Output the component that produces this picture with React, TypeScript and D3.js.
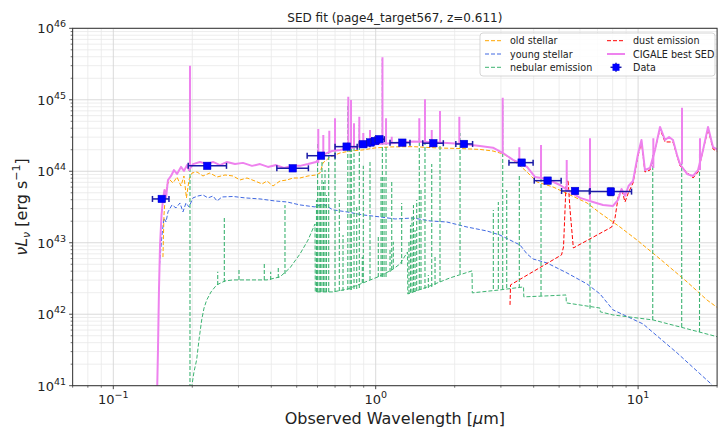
import React from 'react';
import * as d3 from 'd3';

type P = [number, number];
type S = [number, number, number];

const W = 720;
const H = 431;
const PL = 72.65, PR = 717.1, PT = 28.3, PB = 385.7;

const xDomain: [number, number] = [0.07, 20];
const yDomain: [number, number] = [1e41, 1e46];
const xMajorTicks = [0.1, 1, 10];
const yMajorTicks = [1e41, 1e42, 1e43, 1e44, 1e45, 1e46];

const titleText = 'SED fit (page4_target567, z=0.611)';

// old stellar component [wavelength um, nuLnu]
const oldStellar: P[] = [
  [0.1546, 6.3e42], [0.156, 2.45e43], [0.158, 4.67e43], [0.1602, 6.43e43], [0.1645, 7.55e43],
  [0.1689, 6.86e43], [0.1749, 8.31e43], [0.1811, 6.22e43], [0.1859, 8.59e43], [0.19, 4.23e43],
  [0.1943, 7.55e43], [0.1995, 9.46e43], [0.2084, 9.77e43], [0.2197, 8.59e43], [0.2335, 9.46e43],
  [0.2484, 8.31e43], [0.2665, 8.87e43], [0.2859, 8.59e43], [0.304, 7.55e43], [0.3232, 8.05e43],
  [0.3467, 7.31e43], [0.3688, 6.64e43], [0.3852, 7.31e43], [0.4061, 6.22e43], [0.4318, 7.31e43],
  [0.4592, 7.55e43], [0.484, 8.05e43], [0.5146, 8.05e43], [0.5521, 8.59e43], [0.5922, 8.87e43],
  [0.6134, 9.46e43], [0.6297, 1.31e44], [0.6697, 1.58e44], [0.7308, 1.8e44], [0.7983, 1.92e44],
  [0.8946, 1.99e44], [0.9939, 2.12e44], [1.134, 2.19e44], [1.387, 2.21e44], [1.713, 2.12e44],
  [2.096, 2.08e44], [2.497, 2.02e44], [2.799, 1.92e44], [3.056, 1.75e44], [3.25, 1.54e44],
  [3.486, 1.26e44], [3.773, 9.77e43], [4.119, 7.08e43], [4.739, 6.03e43], [5.503, 4.66e43],
  [6.388, 3.6e43], [7.159, 2.61e43], [8.531, 1.66e43], [9.904, 1.09e43], [12.12, 5.93e42],
  [15.37, 2.83e42], [18.31, 1.58e42], [20.16, 1.22e42],
];

const youngStellar: P[] = [
  [0.15, 4.9e42], [0.1533, 1.28e43], [0.156, 2.22e43], [0.1588, 1.95e43], [0.1616, 2.7e43],
  [0.1674, 3.38e43], [0.1734, 3.07e43], [0.1795, 3.6e43], [0.1843, 2.7e43], [0.1892, 3.6e43],
  [0.1943, 3.17e43], [0.2012, 4.24e43], [0.2103, 4.51e43], [0.2197, 4.66e43], [0.2296, 4.24e43],
  [0.2399, 4.51e43], [0.2484, 3.84e43], [0.2596, 4.37e43], [0.2859, 4.44e43], [0.3176, 4.24e43],
  [0.3623, 4.1e43], [0.4133, 3.84e43], [0.4592, 3.72e43], [0.5146, 3.38e43], [0.587, 3.17e43],
  [0.6297, 3.49e43], [0.6876, 2.88e43], [0.7774, 2.7e43], [0.8946, 2.45e43], [1.038, 2.3e43],
  [1.185, 2.15e43], [1.387, 2.22e43], [1.61, 2.02e43], [1.869, 1.95e43], [2.228, 1.66e43],
  [2.657, 1.46e43], [2.977, 1.28e43], [3.25, 1.09e43], [3.547, 9.31e42], [3.773, 6.97e42],
  [3.977, 5.93e42], [4.496, 5.21e42], [5.358, 3.78e42], [6.388, 2.65e42], [7.159, 1.92e42],
  [8.023, 1.15e42], [10.44, 7.31e41], [14.07, 2.88e41], [19.13, 1.03e41],
];

const nebularCont: P[] = [
  [0.1968, 6.3e40], [0.1995, 1.03e41], [0.203, 1.56e41], [0.2078, 2.3e41], [0.2121, 4.37e41],
  [0.2172, 8.32e41], [0.2217, 1.22e42], [0.227, 1.58e42], [0.2357, 2.05e42], [0.2477, 2.57e42],
  [0.2665, 2.92e42], [0.2859, 3.02e42], [0.3319, 3.02e42], [0.3852, 3.02e42], [0.4318, 3.33e42],
  [0.4714, 4.45e42], [0.5146, 6.97e42], [0.5521, 1.09e43], [0.587, 1.83e43], [0.5885, 2.05e42],
  [0.6876, 2.05e42], [0.7843, 2.26e42], [0.8946, 2.74e42], [1.02, 3.33e42], [1.154, 4.17e42],
  [1.238, 5.06e42], [1.322, 7.43e42], [1.325, 1.92e42], [1.61, 2.49e42], [1.919, 3.22e42],
  [2.328, 4.04e42], [2.334, 1.99e42], [2.977, 2.19e42], [3.659, 2.41e42], [3.668, 1.75e42],
  [4.418, 1.8e42], [5.312, 1.86e42], [5.327, 1.44e42], [7.159, 1.22e42], [7.177, 1.08e42],
  [8.023, 9.77e41], [11.4, 8.32e41], [14.44, 6.64e41], [20.16, 4.81e41],
];

// nebular lines [wavelength, base, peak]
const nebularLines: S[] = [
  [0.196, 6.3e40, 2.88e45], [0.25, 2.57e42, 3.94e42], [0.2649, 2.83e42, 2.32e43], [0.3013, 3.02e42, 4.17e42],
  [0.3762, 3.02e42, 5.17e42], [0.3979, 3.02e42, 3.94e42], [0.4253, 3.22e42, 4.45e42], [0.4511, 3.66e42, 3.38e43],
  [0.5948, 2.05e42, 3.97e43], [0.6006, 2.05e42, 2.57e44], [0.6091, 2.05e42, 6.22e43], [0.6166, 2.05e42, 5.14e43],
  [0.6241, 2.05e42, 1.44e44], [0.633, 2.05e42, 7.08e43], [0.6409, 2.05e42, 1.04e44], [0.6494, 2.05e42, 4.67e43],
  [0.6621, 2.05e42, 1.86e44], [0.6998, 2.05e42, 2.74e44], [0.7267, 2.12e42, 3.97e43], [0.7506, 2.12e42, 1.28e43],
  [0.7829, 2.19e42, 8.73e44], [0.7991, 2.19e42, 1.99e44], [0.8073, 2.19e42, 7.68e44], [0.8267, 2.26e42, 3.22e44],
  [0.8464, 2.26e42, 3.38e43], [0.866, 2.33e42, 4.45e44], [0.889, 2.74e42, 6.32e42], [0.8969, 2.74e42, 1.19e44],
  [0.9512, 3.02e42, 1.35e44], [1.023, 3.33e42, 1.28e43], [1.048, 3.33e42, 8.59e43], [1.06, 3.33e42, 3.72e45],
  [1.076, 3.33e42, 8.59e43], [1.095, 3.33e42, 3.12e44], [1.134, 3.91e42, 7.92e42], [1.151, 4.17e42, 7.55e43],
  [1.167, 4.31e42, 1.03e43], [1.256, 5.06e42, 3.6e43], [1.339, 1.92e42, 1.09e43], [1.357, 1.99e42, 1.77e43],
  [1.375, 1.99e42, 2.45e43], [1.393, 2.05e42, 3.38e43], [1.412, 2.05e42, 1.51e43], [1.433, 2.12e42, 3.97e43],
  [1.466, 2.19e42, 2.92e44], [1.488, 2.19e42, 5.48e43], [1.541, 2.26e42, 7.68e44], [1.587, 2.33e42, 3.55e42],
  [1.635, 2.41e42, 1.26e44], [1.683, 2.57e42, 6.32e42], [1.758, 2.83e42, 4.45e44], [2.096, 3.66e42, 3.44e44],
  [2.807, 2.26e42, 2.88e43], [2.933, 2.26e42, 3.72e43], [3.048, 2.26e42, 8.73e44], [3.157, 2.33e42, 5.48e43],
  [3.526, 2.33e42, 8.59e43], [4.266, 1.8e42, 1.22e44], [6.557, 1.19e42, 2.49e44], [11.37, 8.32e41, 1.69e44],
  [14.66, 6.64e41, 6.53e44], [17.14, 5.65e41, 1.86e44],
];

const dustEmission: P[] = [
  [3.25, 1.35e42], [3.264, 2.57e42], [5.107, 6.76e42], [5.197, 8.74e42], [5.312, 6.43e43],
  [5.406, 7.55e43], [5.503, 2.88e43], [5.665, 8.45e42], [7.932, 1.66e43], [8.166, 2.22e43],
  [8.407, 4.52e43], [8.662, 5.48e43], [8.916, 3.72e43], [9.177, 4.98e43], [9.563, 6.86e43],
  [9.992, 1.64e44], [10.3, 2.57e44], [10.62, 9.77e43], [11.1, 1.04e44], [12.12, 3.91e44],
  [12.66, 2.57e44], [13.58, 2.57e44], [14.44, 1.19e44], [16.19, 8.05e43], [16.92, 9.77e43],
  [18.47, 3.91e44], [19.3, 2.05e44], [20.16, 1.86e44],
];

const bestSed: P[] = [
  [0.1467, 6.3e40], [0.148, 3.17e41], [0.1493, 2.19e42], [0.1507, 9.31e42], [0.1527, 2.45e43],
  [0.1546, 3.97e43], [0.1567, 5.48e43], [0.1588, 4.24e43], [0.1616, 7.55e43], [0.166, 8.59e43],
  [0.1703, 1.04e44], [0.1749, 9.16e43], [0.1811, 1.15e44], [0.1859, 1.01e44], [0.1909, 1.22e44],
  [0.1943, 1.04e44], [0.2012, 1.26e44], [0.214, 1.35e44], [0.2276, 1.26e44], [0.2399, 1.35e44],
  [0.255, 1.22e44], [0.2713, 1.35e44], [0.2909, 1.26e44], [0.312, 1.31e44], [0.3377, 1.19e44],
  [0.3623, 1.26e44], [0.3886, 1.15e44], [0.417, 1.22e44], [0.4473, 1.11e44], [0.4797, 1.19e44],
  [0.5146, 1.19e44], [0.5521, 1.26e44], [0.5922, 1.35e44], [0.6134, 1.54e44], [0.6409, 1.75e44],
  [0.6817, 1.92e44], [0.7308, 1.99e44], [0.7983, 2.12e44], [0.8946, 2.26e44], [1.02, 2.41e44],
  [1.185, 2.49e44], [1.387, 2.6e44], [1.61, 2.57e44], [1.869, 2.49e44], [2.151, 2.41e44],
  [2.497, 2.26e44], [2.799, 2.14e44], [3.056, 1.8e44], [3.336, 1.44e44], [3.547, 1.31e44],
  [3.773, 1.15e44], [4.046, 8.32e43], [4.496, 7.8e43], [5.039, 6.43e43], [5.503, 5.14e43],
  [6.006, 4.24e43], [6.732, 3.72e43], [7.349, 3.38e43], [8.023, 3.27e43], [8.384, 3.97e43],
  [8.645, 5.65e43], [8.916, 4.52e43], [9.194, 6.22e43], [9.563, 7.31e43], [9.992, 1.75e44],
  [10.3, 2.74e44], [10.62, 1.04e44], [11.1, 1.11e44], [11.6, 1.99e44], [12.12, 4.17e44],
  [12.66, 2.74e44], [13.12, 3.02e44], [13.58, 2.74e44], [14.07, 1.69e44], [14.44, 1.26e44],
  [15.37, 9.16e43], [16.19, 8.59e43], [16.92, 1.04e44], [17.68, 1.99e44], [18.47, 4.17e44],
  [19.3, 2.17e44], [20.16, 1.99e44],
];

const bestSedLines: S[] = [
  [0.196, 1.19e44, 3.0e45], [0.6042, 1.31e44, 3.91e44], [0.6314, 1.58e44, 3.22e44], [0.6655, 1.8e44, 3.7e44],
  [0.6998, 1.92e44, 5.51e44], [0.7862, 2.12e44, 1.1e45], [0.8052, 2.12e44, 9.93e44], [0.8267, 2.15e44, 4.69e44],
  [0.866, 2.19e44, 5.81e44], [0.8969, 2.26e44, 3.44e44], [0.9512, 2.33e44, 3.79e44], [1.061, 2.41e44, 3.93e45],
  [1.095, 2.41e44, 5.51e44], [1.151, 2.49e44, 3.05e44], [1.466, 2.57e44, 5.51e44], [1.541, 2.57e44, 1.02e45],
  [1.635, 2.53e44, 3.79e44], [1.758, 2.49e44, 6.97e44], [2.083, 2.41e44, 5.81e44], [3.048, 1.75e44, 1.07e45],
  [3.526, 1.31e44, 2.17e44], [4.266, 7.8e43, 2.33e44], [5.345, 5.13e43, 1.44e44], [6.557, 3.97e43, 2.9e44],
  [11.43, 1.11e44, 2.9e44], [14.7, 1.26e44, 7.76e44], [17.21, 1.04e44, 2.9e44],
];

// photometric data
const dataWl = [0.153, 0.228, 0.483, 0.619, 0.775, 0.897, 0.955, 0.994, 1.032, 1.263, 1.658, 2.17, 3.6, 4.52, 5.75, 7.87];
const dataLum = [4.1e43, 1.19e44, 1.1e44, 1.65e44, 2.21e44, 2.39e44, 2.53e44, 2.65e44, 2.81e44, 2.51e44, 2.47e44, 2.41e44, 1.32e44, 7.39e43, 5.3e43, 5.19e43];
const dataWlLo = [0.141, 0.193, 0.42, 0.548, 0.7, 0.866, 0.925, 0.96, 0.994, 1.134, 1.511, 2.02, 3.22, 4.02, 5.11, 6.52];
const dataWlHi = [0.163, 0.27, 0.554, 0.7, 0.85, 0.951, 0.985, 1.03, 1.078, 1.351, 1.81, 2.34, 3.98, 5.09, 6.56, 9.44];
const dataLumErr = [0, 0, 0, 0, 0, 0, 0, 0, 0, 0, 0, 0, 0, 0, 0, 0.6e43];

const legendLabels = ['old stellar', 'young stellar', 'nebular emission', 'dust emission', 'CIGALE best SED', 'Data'];

const C_OLD = '#ffa500';
const C_YOUNG = '#4169e1';
const C_NEB = '#3cb371';
const C_DUST = '#ff0000';
const C_SED = '#ee82ee';
const C_DATA = '#0000ff';
const C_ERR = '#1a1aa6';
const DASH = '4,2';
const FONT = 'DejaVu Sans, Verdana, sans-serif';

function expLabel(v: number) {
  const e = Math.round(Math.log10(v));
  return e < 0 ? '\u2212' + Math.abs(e) : String(e);
}

export default function App() {
  const x = d3.scaleLog().domain(xDomain).range([PL, PR]);
  const y = d3.scaleLog().domain(yDomain).range([PB, PT]);
  const line = d3.line<P>().x((d) => x(d[0])).y((d) => y(d[1]));

  const xMinor = x.ticks().filter((t) => !xMajorTicks.some((m) => Math.abs(m - t) / m < 1e-6));
  const yMinor = y.ticks().filter((t) => !yMajorTicks.some((m) => Math.abs(m - t) / m < 1e-6));

  const legendRows = [40.7, 54, 67.3];
  const LF = 9.6;

  return (
    <svg width={W} height={H} style={{ position: 'absolute', left: 0, top: 0, background: '#fff' }} fontFamily={FONT}>
      <defs>
        <clipPath id="plotClip">
          <rect x={PL} y={PT} width={PR - PL} height={PB - PT} />
        </clipPath>
      </defs>
      <rect x={0} y={0} width={W} height={H} fill="#fff" />
      {/* grid */}
      <g>
        {xMinor.map((t, i) => (
          <line key={'gxm' + i} x1={x(t)} x2={x(t)} y1={PT} y2={PB} stroke="#e8e8e8" strokeWidth={0.8} />
        ))}
        {yMinor.map((t, i) => (
          <line key={'gym' + i} x1={PL} x2={PR} y1={y(t)} y2={y(t)} stroke="#e8e8e8" strokeWidth={0.8} />
        ))}
        {xMajorTicks.map((t, i) => (
          <line key={'gx' + i} x1={x(t)} x2={x(t)} y1={PT} y2={PB} stroke="#d6d6d6" strokeWidth={0.9} />
        ))}
        {yMajorTicks.map((t, i) => (
          <line key={'gy' + i} x1={PL} x2={PR} y1={y(t)} y2={y(t)} stroke="#d6d6d6" strokeWidth={0.9} />
        ))}
      </g>
      {/* components */}
      <g clipPath="url(#plotClip)" fill="none">
        <path d={line(youngStellar) || ''} stroke={C_YOUNG} strokeWidth={1} strokeDasharray={DASH} />
        <path d={line(oldStellar) || ''} stroke={C_OLD} strokeWidth={1} strokeDasharray={DASH} />
        <path d={line(nebularCont) || ''} stroke={C_NEB} strokeWidth={1} strokeDasharray={DASH} />
        {nebularLines.map((l, i) => (
          <line key={'nl' + i} x1={x(l[0])} x2={x(l[0])} y1={y(l[1])} y2={y(l[2])} stroke={C_NEB} strokeWidth={1.1} strokeDasharray={DASH} />
        ))}
        <path d={line(dustEmission) || ''} stroke={C_DUST} strokeWidth={1} strokeDasharray={DASH} />
        <path d={line(bestSed) || ''} stroke={C_SED} strokeWidth={2} strokeLinejoin="round" />
        {bestSedLines.map((l, i) => (
          <line key={'sl' + i} x1={x(l[0])} x2={x(l[0])} y1={y(l[1])} y2={y(l[2])} stroke={C_SED} strokeWidth={2} />
        ))}
      </g>
      {/* data */}
      <g>
        {dataWl.map((w, i) => {
          const cx = x(w);
          const cy = y(dataLum[i]);
          const e = dataLumErr[i];
          return (
            <g key={'d' + i}>
              <line x1={x(dataWlLo[i])} x2={x(dataWlHi[i])} y1={cy} y2={cy} stroke={C_ERR} strokeWidth={1.5} />
              <line x1={x(dataWlLo[i])} x2={x(dataWlLo[i])} y1={cy - 3} y2={cy + 3} stroke={C_ERR} strokeWidth={1.5} />
              <line x1={x(dataWlHi[i])} x2={x(dataWlHi[i])} y1={cy - 3} y2={cy + 3} stroke={C_ERR} strokeWidth={1.5} />
              {e > 0 && (
                <g>
                  <line x1={cx} x2={cx} y1={y(dataLum[i] - e)} y2={y(dataLum[i] + e)} stroke={C_ERR} strokeWidth={1.5} />
                  <line x1={cx - 3} x2={cx + 3} y1={y(dataLum[i] - e)} y2={y(dataLum[i] - e)} stroke={C_ERR} strokeWidth={1.5} />
                  <line x1={cx - 3} x2={cx + 3} y1={y(dataLum[i] + e)} y2={y(dataLum[i] + e)} stroke={C_ERR} strokeWidth={1.5} />
                </g>
              )}
              <rect x={cx - 3.75} y={cy - 3.75} width={7.5} height={7.5} fill={C_DATA} stroke="#0000cc" strokeWidth={0.5} />
            </g>
          );
        })}
      </g>
      {/* frame */}
      <rect x={PL} y={PT} width={PR - PL} height={PB - PT} fill="none" stroke="#333" strokeWidth={1} />
      {/* x ticks */}
      <g>
        {xMinor.map((t, i) => (
          <line key={'xm' + i} x1={x(t)} x2={x(t)} y1={PB} y2={PB + 2} stroke="#333" strokeWidth={0.7} />
        ))}
        {xMajorTicks.map((t, i) => (
          <g key={'xt' + i}>
            <line x1={x(t)} x2={x(t)} y1={PB} y2={PB + 3.5} stroke="#333" strokeWidth={0.9} />
            <text x={x(t)} y={403.5} textAnchor="middle" fontSize={13} fill="#222">
              10<tspan fontSize={9.5} dy={-6}>{expLabel(t)}</tspan>
            </text>
          </g>
        ))}
      </g>
      {/* y ticks */}
      <g>
        {yMinor.map((t, i) => (
          <line key={'ym' + i} x1={PL - 2} x2={PL} y1={y(t)} y2={y(t)} stroke="#333" strokeWidth={0.7} />
        ))}
        {yMajorTicks.map((t, i) => (
          <g key={'yt' + i}>
            <line x1={PL - 3.5} x2={PL} y1={y(t)} y2={y(t)} stroke="#333" strokeWidth={0.9} />
            <text x={66} y={y(t) + 5} textAnchor="end" fontSize={13} fill="#222">
              10<tspan fontSize={9.5} dy={-6}>{expLabel(t)}</tspan>
            </text>
          </g>
        ))}
      </g>
      {/* labels */}
      <text x={(PL + PR) / 2} y={22} textAnchor="middle" fontSize={12} fill="#222">{titleText}</text>
      <text x={(PL + PR) / 2} y={424} textAnchor="middle" fontSize={16} fill="#222">
        Observed Wavelength [<tspan fontStyle="italic">μ</tspan>m]
      </text>
      <text transform={`translate(27,${(PT + PB) / 2}) rotate(-90)`} textAnchor="middle" fontSize={16} fill="#222">
        <tspan fontStyle="italic">νL</tspan>
        <tspan fontStyle="italic" fontSize={11} dy={3}>ν</tspan>
        <tspan dy={-3}> [erg s</tspan>
        <tspan fontSize={11} dy={-7}>−1</tspan>
        <tspan dy={7}>]</tspan>
      </text>
      {/* legend */}
      <g>
        <rect x={480} y={33} width={235} height={43} rx={3} fill="#fff" fillOpacity={0.85} stroke="#cccccc" strokeWidth={0.8} />
        {[C_OLD, C_YOUNG, C_NEB].map((c, i) => (
          <g key={'l1' + i}>
            <line x1={485} x2={502} y1={legendRows[i]} y2={legendRows[i]} stroke={c} strokeWidth={1} strokeDasharray={DASH} />
            <text x={510} y={legendRows[i] + 3.5} fontSize={LF} fill="#222">{legendLabels[i]}</text>
          </g>
        ))}
        <line x1={607} x2={625} y1={legendRows[0]} y2={legendRows[0]} stroke={C_DUST} strokeWidth={1} strokeDasharray={DASH} />
        <text x={633} y={legendRows[0] + 3.5} fontSize={LF} fill="#222">{legendLabels[3]}</text>
        <line x1={607} x2={625} y1={legendRows[1]} y2={legendRows[1]} stroke={C_SED} strokeWidth={2} />
        <text x={633} y={legendRows[1] + 3.5} fontSize={LF} fill="#222">{legendLabels[4]}</text>
        <g>
          <line x1={610.5} x2={621.5} y1={legendRows[2]} y2={legendRows[2]} stroke={C_ERR} strokeWidth={1.5} />
          <line x1={616} x2={616} y1={legendRows[2] - 4.5} y2={legendRows[2] + 4.5} stroke={C_ERR} strokeWidth={1.5} />
          <rect x={612.5} y={legendRows[2] - 3.5} width={7} height={7} fill={C_DATA} />
        </g>
        <text x={633} y={legendRows[2] + 3.5} fontSize={LF} fill="#222">{legendLabels[5]}</text>
      </g>
    </svg>
  );
}
